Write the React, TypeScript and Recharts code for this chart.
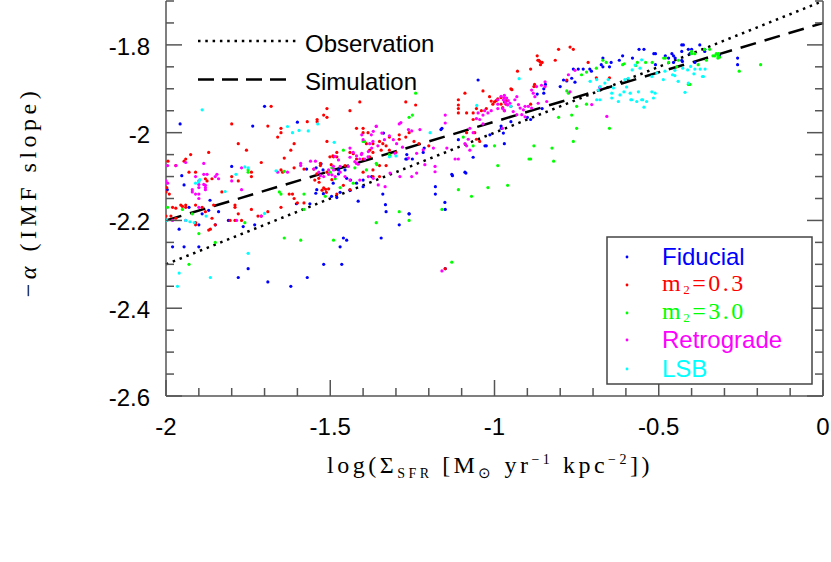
import React from "react";
import { ScatterChart, Scatter, XAxis, YAxis, ReferenceLine } from "recharts";

// [log Sigma_SFR, -alpha]
const fiducial: [number, number][] = [
  [-1.7, -1.94], [-1.957, -1.98], [-1.736, -1.985], [-1.6, -1.976], [-1.8, -2.077], [-1.952, -2.098],
  [-1.945, -2.119], [-1.996, -2.13], [-1.866, -2.154], [-1.93, -2.17], [-1.87, -2.177], [-1.9, -2.21],
  [-1.89, -2.185], [-1.85, -2.21], [-1.81, -2.2], [-1.765, -2.214], [-1.73, -2.21], [-1.98, -2.26],
  [-1.945, -2.26], [-1.96, -2.22], [-1.9, -2.26], [-1.78, -2.33], [-1.75, -2.31], [-1.69, -2.34],
  [-1.62, -2.35], [-1.57, -2.33], [-1.52, -2.3], [-1.465, -2.3], [-1.47, -2.26], [-1.46, -2.24],
  [-1.45, -2.245], [-1.84, -2.18], [-1.34, -2.14], [-1.33, -2.18], [-1.29, -2.21], [-1.26, -2.185],
  [-1.345, -2.24], [-1.18, -2.14], [-1.15, -2.175], [-1.15, -2.31],
  [-1.572, -2.083], [-1.543, -2.08], [-1.528, -2.071], [-1.541, -2.13], [-1.544, -2.138], [-1.496, -2.145],
  [-1.491, -2.115], [-1.522, -2.085], [-1.603, -2.162], [-1.562, -2.162], [-1.521, -2.139], [-1.47, -2.136],
  [-1.48, -2.148], [-1.44, -2.131], [-1.415, -2.156],
  [-1.338, -2.001], [-1.475, -2.085], [-1.475, -2.094], [-1.455, -2.085], [-1.45, -2.104], [-1.438, -2.108],
  [-1.42, -2.115], [-1.4, -2.123], [-1.4, -2.108], [-1.374, -2.1], [-1.267, -2.06], [-1.267, -2.05],
  [-1.217, -2.045], [-1.214, -2.035], [-1.163, -1.993], [-1.11, -2.016], [-1.065, -2.056], [-1.029, -2.03],
  [-1.014, -2.005], [-0.979, -1.99], [-0.973, -2.001], [-1.128, -2.098], [-1.087, -2.092], [-1.18, -2.123],
  [-1.151, -2.159], [-1.26, -2.185], [-1.332, -2.164],
  [-1.05, -1.88], [-1.16, -1.99], [-0.98, -1.985], [-0.97, -2.025], [-1.025, -2.03], [-1.09, -2.09],
  [-1.13, -2.095], [-1.25, -2.06], [-1.27, -2.06], [-0.95, -1.975], [-0.9, -1.965], [-0.89, -1.97],
  [-0.85, -1.9], [-0.85, -1.91], [-0.87, -1.912], [-0.855, -1.945], [-0.8, -1.895], [-0.79, -1.88],
  [-0.78, -1.882], [-0.765, -1.876], [-0.755, -1.885], [-0.745, -1.855], [-0.73, -1.855], [-0.71, -1.855],
  [-0.675, -1.845], [-0.67, -1.85], [-0.65, -1.85], [-0.845, -1.89], [-0.76, -1.855], [-0.705, -1.86],
  [-0.67, -1.83], [-0.645, -1.84], [-0.62, -1.835], [-0.61, -1.825], [-0.58, -1.83], [-0.56, -1.81],
  [-0.545, -1.81], [-0.515, -1.82], [-0.51, -1.82], [-0.48, -1.825], [-0.47, -1.83], [-0.46, -1.82],
  [-0.455, -1.825], [-0.51, -1.845], [-0.45, -1.83], [-0.43, -1.8], [-0.425, -1.8], [-0.43, -1.815],
  [-0.41, -1.81], [-0.405, -1.82], [-0.4, -1.81], [-0.375, -1.8], [-0.36, -1.815], [-0.36, -1.81],
  [-0.43, -1.835], [-0.428, -1.838], [-0.455, -1.84], [-0.39, -1.84], [-0.315, -1.825], [-0.26, -1.83],
  [-0.26, -1.845],
];

const m2Low: [number, number][] = [
  [-1.68, -1.94], [-1.8, -1.98], [-1.69, -1.985], [-1.51, -1.945], [-1.52, -1.96], [-1.51, -1.965],
  [-1.41, -1.93], [-1.44, -1.95], [-1.54, -1.97], [-1.54, -1.975], [-1.57, -1.975], [-1.65, -1.99],
  [-1.66, -2.01], [-1.65, -2.0], [-1.78, -2.025], [-1.755, -2.04], [-1.61, -2.025], [-1.62, -2.04],
  [-1.51, -2.02], [-1.87, -2.045], [-1.925, -2.05], [-1.94, -2.06], [-1.945, -2.065], [-1.97, -2.075],
  [-1.994, -2.065], [-1.64, -2.058], [-1.71, -2.068], [-1.49, -2.055], [-1.51, -2.09], [-1.53, -2.07],
  [-1.53, -2.075], [-1.58, -2.083], [-1.55, -2.083], [-1.61, -2.08], [-1.93, -2.09], [-1.91, -2.09],
  [-1.88, -2.105], [-1.875, -2.11], [-1.86, -2.105], [-1.8, -2.1], [-1.74, -2.09], [-1.74, -2.1],
  [-1.78, -2.11], [-1.83, -2.135], [-2.0, -2.135], [-1.998, -2.125], [-1.99, -2.14], [-1.955, -2.165],
  [-1.95, -2.168], [-1.94, -2.165], [-1.94, -2.17], [-1.98, -2.17], [-1.97, -2.172], [-1.91, -2.165],
  [-1.89, -2.17], [-1.88, -2.18], [-1.855, -2.165], [-1.79, -2.165], [-1.79, -2.17], [-1.78, -2.185],
  [-1.74, -2.175], [-1.72, -2.19], [-1.71, -2.19], [-1.69, -2.18], [-1.805, -2.2], [-1.79, -2.2],
  [-1.85, -2.21], [-1.86, -2.195], [-1.865, -2.22], [-1.87, -2.222], [-1.65, -2.17], [-1.61, -2.15],
  [-1.6, -2.16], [-1.58, -2.16], [-1.625, -2.14], [-1.615, -2.14], [-1.985, -2.19], [-1.97, -2.195],
  [-2.0, -2.19], [-1.65, -2.085], [-1.645, -2.09], [-1.77, -2.2], [-1.91, -2.205], [-1.91, -2.21],
  [-1.547, -2.108], [-1.535, -2.104], [-1.541, -2.094], [-1.534, -2.113], [-1.52, -2.126], [-1.514, -2.129],
  [-1.525, -2.131], [-1.512, -2.136], [-1.505, -2.128], [-1.495, -2.107], [-1.492, -2.053], [-1.501, -2.055],
  [-1.497, -2.073],
  [-1.27, -1.93], [-1.24, -1.937], [-1.09, -1.91], [-1.11, -1.925], [-1.11, -1.937], [-1.11, -1.945],
  [-1.11, -1.955], [-1.035, -1.905], [-1.015, -1.918], [-1.01, -1.928], [-1.005, -1.935], [-1.0, -1.93],
  [-0.995, -1.927], [-0.99, -1.923], [-0.98, -1.935], [-0.975, -1.943], [-0.965, -1.927], [-1.085, -1.955],
  [-1.065, -1.955], [-1.055, -1.945], [-1.04, -1.95], [-1.025, -1.945], [-1.065, -1.97], [-1.4, -1.99],
  [-1.42, -1.99], [-1.4, -2.0], [-1.385, -2.0], [-1.37, -2.025], [-1.39, -2.025], [-1.35, -2.02],
  [-1.34, -2.025], [-1.32, -2.01], [-1.29, -2.005], [-1.29, -2.015], [-1.27, -2.01], [-1.26, -2.0],
  [-1.23, -2.025], [-1.245, -2.02], [-1.33, -2.03], [-1.32, -2.04], [-1.3, -2.045], [-1.38, -2.04],
  [-1.37, -2.045], [-1.38, -2.055], [-1.4, -2.06], [-1.44, -2.045], [-1.43, -2.048], [-1.42, -2.06],
  [-1.48, -2.045], [-1.48, -2.055], [-1.4, -2.09], [-1.37, -2.1], [-1.37, -2.085], [-1.35, -2.075],
  [-1.33, -2.075], [-1.2, -2.03], [-1.055, -2.015], [-1.045, -2.02], [-1.06, -2.0], [-1.085, -2.0],
  [-1.455, -2.075], [-1.345, -2.04], [-1.35, -2.1], [-1.46, -2.12], [-1.44, -2.13], [-1.48, -2.14],
  [-0.87, -1.825], [-0.865, -1.835], [-0.862, -1.838], [-0.855, -1.84], [-0.86, -1.845], [-0.868, -1.835],
  [-0.805, -1.81], [-0.77, -1.805], [-0.76, -1.81], [-0.815, -1.835], [-0.89, -1.855], [-0.93, -1.86],
  [-0.715, -1.84], [-0.95, -1.9], [-0.947, -1.902], [-0.88, -1.895], [-0.878, -1.89], [-0.78, -1.88],
  [-0.65, -1.875], [-0.97, -1.93], [-0.98, -1.92], [-0.965, -1.935], [-0.95, -1.94], [-0.97, -1.95],
  [-0.89, -1.935], [-0.69, -1.875], [-1.15, -2.31],
];

const m2High: [number, number][] = [
  [-1.29, -2.18], [-1.26, -2.2], [-1.16, -2.175], [-1.11, -2.13], [-1.07, -2.145], [-1.02, -2.125],
  [-0.96, -2.12], [-1.13, -2.295], [-1.93, -2.3], [-1.9, -2.23], [-1.85, -2.25], [-1.64, -2.24],
  [-1.59, -2.245], [-1.49, -2.245], [-1.36, -2.205], [-1.58, -2.175], [-1.95, -2.175],
  [-0.44, -1.835], [-0.4, -1.815], [-0.4, -1.82], [-0.39, -1.82], [-0.36, -1.81], [-0.345, -1.81],
  [-0.355, -1.835], [-0.38, -1.845], [-0.335, -1.825], [-0.325, -1.82], [-0.32, -1.825], [-0.318, -1.82],
  [-0.315, -1.828], [-0.33, -1.825], [-0.32, -1.83], [-0.255, -1.86], [-0.19, -1.845], [-0.41, -1.89],
  [-0.405, -1.89],
  [-0.78, -1.905], [-0.775, -1.91], [-0.805, -1.965], [-0.765, -1.96], [-0.75, -1.94], [-0.72, -1.935],
  [-0.75, -1.99], [-0.65, -1.99], [-0.76, -2.02], [-0.88, -2.03], [-0.825, -2.035], [-0.895, -2.06],
  [-0.89, -2.06], [-0.82, -2.065], [-0.735, -1.868], [-0.72, -1.862], [-0.69, -1.853], [-0.67, -1.835],
  [-0.66, -1.84], [-0.61, -1.845], [-0.605, -1.843], [-0.57, -1.847], [-0.565, -1.84], [-0.54, -1.84],
  [-0.52, -1.84], [-0.485, -1.83], [-0.48, -1.83], [-0.47, -1.84], [-0.445, -1.85],
  [-1.24, -1.91], [-1.25, -1.96], [-1.26, -1.965], [-1.46, -2.04], [-1.395, -2.02], [-1.4, -2.02],
  [-1.36, -2.07], [-1.358, -2.073], [-1.32, -2.05], [-1.318, -2.053], [-1.39, -2.085], [-1.485, -2.105],
  [-1.425, -2.08], [-1.43, -2.115], [-1.47, -2.125], [-1.095, -2.01], [-1.065, -2.03], [-1.0, -2.03],
  [-0.99, -2.075],
  [-1.75, -2.085], [-1.75, -2.09], [-1.92, -2.185], [-1.995, -2.17], [-1.76, -2.205], [-1.655, -2.135],
  [-1.65, -2.14], [-1.64, -2.088], [-1.58, -2.14], [-1.515, -2.145], [-1.5, -2.09], [-1.495, -2.08],
];

const retrograde: [number, number][] = [
  [-1.995, -2.075], [-1.97, -2.075], [-1.94, -2.068], [-1.885, -2.07], [-1.91, -2.1], [-1.9, -2.11],
  [-1.885, -2.095], [-1.875, -2.095], [-1.88, -2.12], [-1.885, -2.118], [-1.9, -2.118], [-1.9, -2.125],
  [-1.92, -2.13], [-1.85, -2.1], [-1.84, -2.105], [-1.845, -2.095], [-1.9, -2.17], [-1.94, -2.2],
  [-1.98, -2.2], [-2.0, -2.11], [-1.995, -2.115], [-1.77, -2.08], [-1.8, -2.11], [-1.77, -2.13],
  [-1.785, -2.2], [-1.71, -2.19], [-1.66, -2.09], [-1.63, -2.09], [-1.59, -2.075], [-1.56, -2.065],
  [-1.545, -2.065], [-1.53, -2.098], [-1.52, -2.1], [-1.505, -2.085], [-1.49, -2.077], [-1.495, -2.096],
  [-1.91, -2.14], [-1.9, -2.14], [-1.88, -2.13], [-1.88, -2.125], [-1.9, -2.15], [-1.92, -2.135],
  [-1.36, -1.985], [-1.375, -2.005], [-1.38, -2.025], [-1.37, -2.02], [-1.355, -2.03], [-1.44, -2.035],
  [-1.43, -2.045], [-1.405, -2.05], [-1.385, -2.055], [-1.395, -2.06], [-1.41, -2.06], [-1.42, -2.07],
  [-1.59, -2.07], [-1.55, -2.083], [-1.535, -2.09], [-1.505, -2.095], [-1.485, -2.1], [-1.47, -2.09],
  [-0.97, -1.915], [-0.97, -1.92], [-0.98, -1.917], [-0.99, -1.925], [-0.99, -1.935], [-0.965, -1.933],
  [-0.96, -1.937], [-0.97, -1.95], [-0.975, -1.945], [-0.99, -1.945], [-1.01, -1.95], [-1.03, -1.95],
  [-1.02, -1.955], [-1.035, -1.96], [-1.05, -1.955], [-1.055, -1.968], [-1.045, -1.97], [-1.035, -1.98],
  [-1.075, -1.99], [-1.065, -2.0], [-1.08, -2.015], [-1.09, -2.025], [-1.085, -2.03], [-1.075, -2.04],
  [-1.11, -2.06], [-1.12, -2.06], [-1.145, -2.035], [-1.15, -1.96], [-1.15, -1.978],
  [-1.285, -1.977], [-1.29, -1.98], [-1.262, -1.993], [-1.252, -1.996], [-1.227, -1.993], [-1.308, -2.016],
  [-1.298, -2.025], [-1.28, -2.033], [-1.303, -2.047], [-1.32, -2.007], [-1.335, -2.016], [-1.36, -1.986],
  [-1.343, -2.001], [-1.369, -1.997], [-1.404, -2.005], [-1.4, -2.016], [-1.374, -2.035], [-1.384, -2.043],
  [-1.404, -2.047], [-1.42, -2.053], [-1.44, -2.056], [-1.425, -2.066], [-1.415, -2.072], [-1.445, -2.077],
  [-1.455, -2.1], [-1.44, -2.108], [-1.486, -2.054], [-1.49, -2.085], [-1.47, -2.077], [-1.475, -2.062],
  [-1.262, -2.058], [-1.237, -2.047], [-1.217, -2.039], [-1.186, -2.035], [-1.181, -2.077], [-1.181, -2.089],
  [-1.237, -2.092], [-1.252, -2.1], [-1.288, -2.1], [-1.318, -2.092], [-1.354, -2.119], [-1.333, -2.123],
  [-1.369, -2.104], [-1.384, -2.1], [-1.41, -2.108], [-1.212, -2.073], [-1.16, -2.315],
  [-0.973, -1.925], [-0.968, -1.929], [-0.963, -1.921], [-0.958, -1.927], [-0.953, -1.933], [-0.938, -1.925],
  [-0.932, -1.918], [-0.927, -1.936], [-0.922, -1.944], [-0.912, -1.948], [-0.907, -1.94], [-0.897, -1.94],
  [-0.887, -1.944], [-0.917, -1.959], [-0.907, -1.964], [-0.932, -1.959], [-0.943, -1.952], [-0.882, -1.91],
  [-0.887, -1.903], [-0.877, -1.918], [-0.872, -1.895], [-0.857, -1.892], [-0.846, -1.884], [-0.846, -1.895],
  [-0.841, -1.929], [-0.77, -1.907], [-0.775, -1.868], [-0.755, -1.858], [-0.704, -1.936], [-0.658, -1.963],
  [-0.976, -1.99], [-0.867, -1.933], [-0.68, -1.897],
];

const lsb: [number, number][] = [
  [-0.925, -1.877], [-0.95, -1.94], [-0.709, -1.883], [-0.689, -1.879], [-0.679, -1.895], [-0.664, -1.887],
  [-0.654, -1.879], [-0.638, -1.898], [-0.643, -1.921], [-0.623, -1.929], [-0.618, -1.914], [-0.606, -1.907],
  [-0.603, -1.879], [-0.593, -1.876], [-0.585, -1.925], [-0.567, -1.929], [-0.562, -1.907], [-0.549, -1.925],
  [-0.545, -1.942], [-0.521, -1.907], [-0.516, -1.921], [-0.511, -1.91], [-0.521, -1.872], [-0.506, -1.864],
  [-0.486, -1.879], [-0.481, -1.86], [-0.679, -1.925], [-0.689, -1.925], [-0.684, -1.903], [-0.643, -1.91],
  [-0.598, -1.896], [-0.587, -1.91], [-0.582, -1.925], [-0.552, -1.925], [-0.537, -1.929], [-0.557, -1.853],
  [-0.572, -1.846], [-0.581, -1.857], [-0.552, -1.834],
  [-0.458, -1.868], [-0.451, -1.87], [-0.441, -1.883], [-0.451, -1.858], [-0.427, -1.853], [-0.412, -1.857],
  [-0.403, -1.849], [-0.39, -1.855], [-0.393, -1.866], [-0.367, -1.872], [-0.359, -1.855], [-0.42, -1.908],
  [-0.41, -1.887], [-0.374, -1.855], [-0.364, -1.872],
  [-1.89, -1.948], [-1.63, -1.986], [-1.615, -2.0], [-1.595, -1.995], [-1.567, -1.996], [-1.538, -1.98],
  [-1.488, -2.022], [-1.665, -2.087], [-1.75, -2.08], [-1.76, -2.078], [-1.787, -2.095], [-1.82, -2.134],
  [-1.897, -2.107], [-1.9, -2.112], [-1.91, -2.115], [-1.878, -2.19], [-1.914, -2.205], [-1.998, -2.2],
  [-1.7, -2.184], [-1.927, -2.203], [-1.96, -2.32], [-1.965, -2.35], [-1.865, -2.33], [-1.75, -2.275],
  [-1.94, -2.2], [-1.196, -2.0], [-1.3, -2.053], [-1.32, -2.055], [-1.054, -1.938],
];

// fitted relations
const observationLine = [{ x: -2, y: -2.3 }, { x: 0, y: -1.7 }];
const simulationLine = [{ x: -2, y: -2.2 }, { x: 0, y: -1.75 }];

const xTicks = [-2, -1.9, -1.8, -1.7, -1.6, -1.5, -1.4, -1.3, -1.2, -1.1, -1, -0.9, -0.8, -0.7, -0.6, -0.5, -0.4, -0.3, -0.2, -0.1, 0];
const yTicks = [-2.6, -2.55, -2.5, -2.45, -2.4, -2.35, -2.3, -2.25, -2.2, -2.15, -2.1, -2.05, -2, -1.95, -1.9, -1.85, -1.8, -1.75, -1.7];

const series = [
  { name: "Fiducial", pts: fiducial, color: "#0000ff" },
  { name: "m2=0.3", pts: m2Low, color: "#ff0000" },
  { name: "m2=3.0", pts: m2High, color: "#00ff00" },
  { name: "Retrograde", pts: retrograde, color: "#ff00ff" },
  { name: "LSB", pts: lsb, color: "#00ffff" },
];

const AXIS = "#555";
const SANS = "'Liberation Sans', Arial, sans-serif";
const SERIF = "'Liberation Serif', 'Times New Roman', serif";

const isMajorX = (v: number) => Math.abs(v * 2 - Math.round(v * 2)) < 1e-6;
const isMajorY = (v: number) => Math.abs(v * 5 - Math.round(v * 5)) < 1e-6;

const BottomTick = ({ x, y, payload }: any) => {
  const major = isMajorX(payload.value);
  return (
    <g>
      <line x1={x} x2={x} y1={y} y2={y - (major ? 16 : 8)} stroke={AXIS} strokeWidth={1.5} />
      {major && (
        <text x={x} y={y + 39} textAnchor="middle" fontFamily={SANS} fontSize={24} fill="#000">
          {String(payload.value)}
        </text>
      )}
    </g>
  );
};

const TopTick = ({ x, y, payload }: any) => {
  const major = isMajorX(payload.value);
  return <line x1={x} x2={x} y1={y} y2={y + (major ? 16 : 8)} stroke={AXIS} strokeWidth={1.5} />;
};

const LeftTick = ({ x, y, payload }: any) => {
  const major = isMajorY(payload.value);
  return (
    <g>
      <line x1={x} x2={x + (major ? 16 : 8)} y1={y} y2={y} stroke={AXIS} strokeWidth={1.5} />
      {major && (
        <text x={x - 16} y={y + 10} textAnchor="end" fontFamily={SANS} fontSize={24} fill="#000">
          {String(payload.value)}
        </text>
      )}
    </g>
  );
};

const RightTick = ({ x, y, payload }: any) => {
  const major = isMajorY(payload.value);
  return <line x1={x} x2={x - (major ? 16 : 8)} y1={y} y2={y} stroke={AXIS} strokeWidth={1.5} />;
};

const Dot = (props: any) => <circle cx={props.cx} cy={props.cy} r={1.6} fill={props.fill} />;

const legendRows = [258, 286, 314, 341, 370];

export default function App() {
  return (
    <div style={{ position: "absolute", left: 0, top: 0, width: 831, height: 562, background: "#fff" }}>
      <ScatterChart width={831} height={562} margin={{ top: 1, right: 0, bottom: 0, left: 0 }}>
        <XAxis xAxisId="b" type="number" dataKey="x" domain={[-2, 0]} ticks={xTicks} interval={0}
          height={166} tickSize={0} tickMargin={0} tickLine={false} axisLine={{ stroke: AXIS, strokeWidth: 1.5 }}
          tick={<BottomTick />} allowDataOverflow />
        <XAxis xAxisId="t" orientation="top" type="number" dataKey="x" domain={[-2, 0]} ticks={xTicks} interval={0}
          height={0} tickSize={0} tickMargin={0} tickLine={false} axisLine={{ stroke: AXIS, strokeWidth: 1.5 }}
          tick={<TopTick />} allowDataOverflow />
        <YAxis yAxisId="l" type="number" dataKey="y" domain={[-2.6, -1.7]} ticks={yTicks} interval={0}
          width={166} tickSize={0} tickMargin={0} tickLine={false} axisLine={{ stroke: AXIS, strokeWidth: 1.5 }}
          tick={<LeftTick />} allowDataOverflow />
        <YAxis yAxisId="r" orientation="right" type="number" dataKey="y" domain={[-2.6, -1.7]} ticks={yTicks} interval={0}
          width={8} tickSize={0} tickMargin={0} tickLine={false} axisLine={{ stroke: AXIS, strokeWidth: 1.5 }}
          tick={<RightTick />} allowDataOverflow />
        {series.map((s) => (
          <Scatter key={s.name} name={s.name} xAxisId="b" yAxisId="l"
            data={s.pts.map(([x, y]) => ({ x, y }))} fill={s.color} shape={<Dot />} isAnimationActive={false} />
        ))}
        <ReferenceLine xAxisId="b" yAxisId="l" segment={observationLine} ifOverflow="visible"
          stroke="#000" strokeWidth={2.5} strokeDasharray="2.5 4.8" />
        <ReferenceLine xAxisId="b" yAxisId="l" segment={simulationLine} ifOverflow="visible"
          stroke="#000" strokeWidth={2.5} strokeDasharray="16 9" />
      </ScatterChart>

      <svg width={831} height={562} style={{ position: "absolute", left: 0, top: 0, pointerEvents: "none" }}>
        <line x1={198} x2={297} y1={41} y2={41} stroke="#000" strokeWidth={2.5} strokeDasharray="2.5 4.8" />
        <text x={305} y={52} fontFamily={SANS} fontSize={24} fill="#000">Observation</text>
        <line x1={198} x2={292} y1={79.5} y2={79.5} stroke="#000" strokeWidth={2.5} strokeDasharray="16 8" />
        <text x={305} y={90} fontFamily={SANS} fontSize={24} fill="#000">Simulation</text>

        <rect x={607} y={237} width={205} height={147} fill="#fff" stroke="#444" strokeWidth={1.5} />
        {series.map((s, i) => (
          <circle key={s.name} cx={627} cy={legendRows[i] - 1} r={1.4} fill={s.color} />
        ))}
        <text x={662} y={265} fontFamily={SANS} fontSize={24} fill="#0000ff">Fiducial</text>
        <text x={662} y={291} fontFamily={SERIF} fontSize={24} fill="#ff0000" letterSpacing={2.5}>
          m<tspan fontSize={13} dy={3}>2</tspan><tspan dy={-3}>=0.3</tspan>
        </text>
        <text x={662} y={319} fontFamily={SERIF} fontSize={24} fill="#00ff00" letterSpacing={2.5}>
          m<tspan fontSize={13} dy={3}>2</tspan><tspan dy={-3}>=3.0</tspan>
        </text>
        <text x={662} y={348} fontFamily={SANS} fontSize={24} fill="#ff00ff">Retrograde</text>
        <text x={662} y={377} fontFamily={SANS} fontSize={24} fill="#00ffff">LSB</text>

        <text x={490} y={473} textAnchor="middle" fontFamily={SERIF} fontSize={24} fill="#000" letterSpacing={3.5}>
          log(Σ<tspan fontSize={14} dy={5}>SFR</tspan><tspan dy={-5}> [M</tspan>
          <tspan fontSize={15} dy={5}>⊙</tspan><tspan dy={-5}> yr</tspan>
          <tspan fontSize={14} dy={-9}>−1</tspan><tspan dy={9}> kpc</tspan>
          <tspan fontSize={14} dy={-9}>−2</tspan><tspan dy={9}>])</tspan>
        </text>
        <text transform="translate(36,192) rotate(-90)" textAnchor="middle" fontFamily={SERIF} fontSize={24}
          fill="#000" letterSpacing={4.5}>
          −<tspan fontStyle="italic">α</tspan> (IMF slope)
        </text>
      </svg>
    </div>
  );
}
